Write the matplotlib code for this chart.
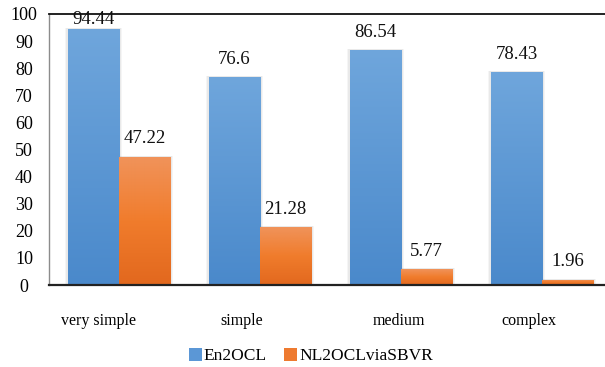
import numpy as np
import matplotlib
matplotlib.use("Agg")
import matplotlib.pyplot as plt
from matplotlib.colors import LinearSegmentedColormap
from matplotlib.transforms import ScaledTranslation
from matplotlib.patches import Rectangle

categories = ["very simple", "simple", "medium", "complex"]
en2ocl = [94.44, 76.6, 86.54, 78.43]
nl2ocl = [47.22, 21.28, 5.77, 1.96]
series_names = ["En2OCL", "NL2OCLviaSBVR"]
yticks = [0, 10, 20, 30, 40, 50, 60, 70, 80, 90, 100]

plt.rcParams['font.family'] = ['Liberation Serif', 'DejaVu Serif']

fig = plt.figure(figsize=(6.05, 3.67), dpi=100)
ax = fig.add_axes([49/605, 1-285/367, 1-49/605, (285-14)/367])

x = np.arange(len(categories))
w = 0.362
blue_cmap = LinearSegmentedColormap.from_list("b", ["#4a89cb", "#6fa6dc"])
orange_cmap = LinearSegmentedColormap.from_list("o", ["#e2681e", "#f07c2c", "#f0935a"])

grad = np.linspace(0, 1, 256).reshape(-1, 1)

def gradient_bars(xs, vals, cmap):
    bars = ax.bar(xs, vals, width=w, color="none", edgecolor="none", zorder=3)
    for b in bars:
        bx, by = b.get_x(), b.get_y()
        bw, bh = b.get_width(), b.get_height()
        # soft shadow
        for k, a in [(0.02, 0.08), (0.012, 0.10)]:
            ax.add_patch(Rectangle((bx - k, by), bw + 2 * k, bh + 0.4,
                                   facecolor="#808080", alpha=a, edgecolor="none", zorder=2))
        im = ax.imshow(grad, cmap=cmap, aspect="auto", origin="lower",
                       extent=(bx, bx + bw, by, by + bh), zorder=3)
        im.set_clip_path(b)
    return bars

gradient_bars(x - w / 2, en2ocl, blue_cmap)
gradient_bars(x + w / 2, nl2ocl, orange_cmap)

for xs, vals in [(x - w / 2, en2ocl), (x + w / 2, nl2ocl)]:
    for xi, v in zip(xs, vals):
        dy = 0.5 if v > 90 else 7
        ax.annotate(f"{v:g}", (xi, v), xytext=(0, dy), textcoords="offset points",
                    ha="center", va="bottom", fontsize=13.5, color="#111111", zorder=5)

ax.set_xlim(-0.496, 3 + (605 - 542) / 141)
ax.set_ylim(0, 100)
ax.set_yticks(yticks)
ax.tick_params(axis="y", length=0, pad=18, labelsize=13)
for lbl in ax.get_yticklabels():
    lbl.set_horizontalalignment("center")
ax.set_xticks(x)
ax.set_xticklabels(categories, fontsize=11.5)
ax.tick_params(axis="x", length=0, pad=20)
label_shifts = [-20, -18, -2, -13]
for lbl, s in zip(ax.get_xticklabels(), label_shifts):
    lbl.set_transform(lbl.get_transform() + ScaledTranslation(s / 100, 0, fig.dpi_scale_trans))

ax.spines["right"].set_visible(False)
ax.spines["left"].set_color("#8c8c8c")
ax.spines["left"].set_linewidth(1.0)
ax.spines["top"].set_color("#111111")
ax.spines["top"].set_linewidth(1.3)
ax.spines["bottom"].set_color("#222222")
ax.spines["bottom"].set_linewidth(1.6)
ax.spines["bottom"].set_zorder(6)

handles = [Rectangle((0, 0), 1, 1, facecolor="#5b97d6"),
           Rectangle((0, 0), 1, 1, facecolor="#ee7a30")]
fig.legend(handles, series_names, loc="center", bbox_to_anchor=(311/605, 1 - 356/367),
           ncol=2, frameon=False, fontsize=12.5, handlelength=0.75, handleheight=0.75,
           handletextpad=0.1, columnspacing=1.0)

fig.savefig("out.png", dpi=100)
